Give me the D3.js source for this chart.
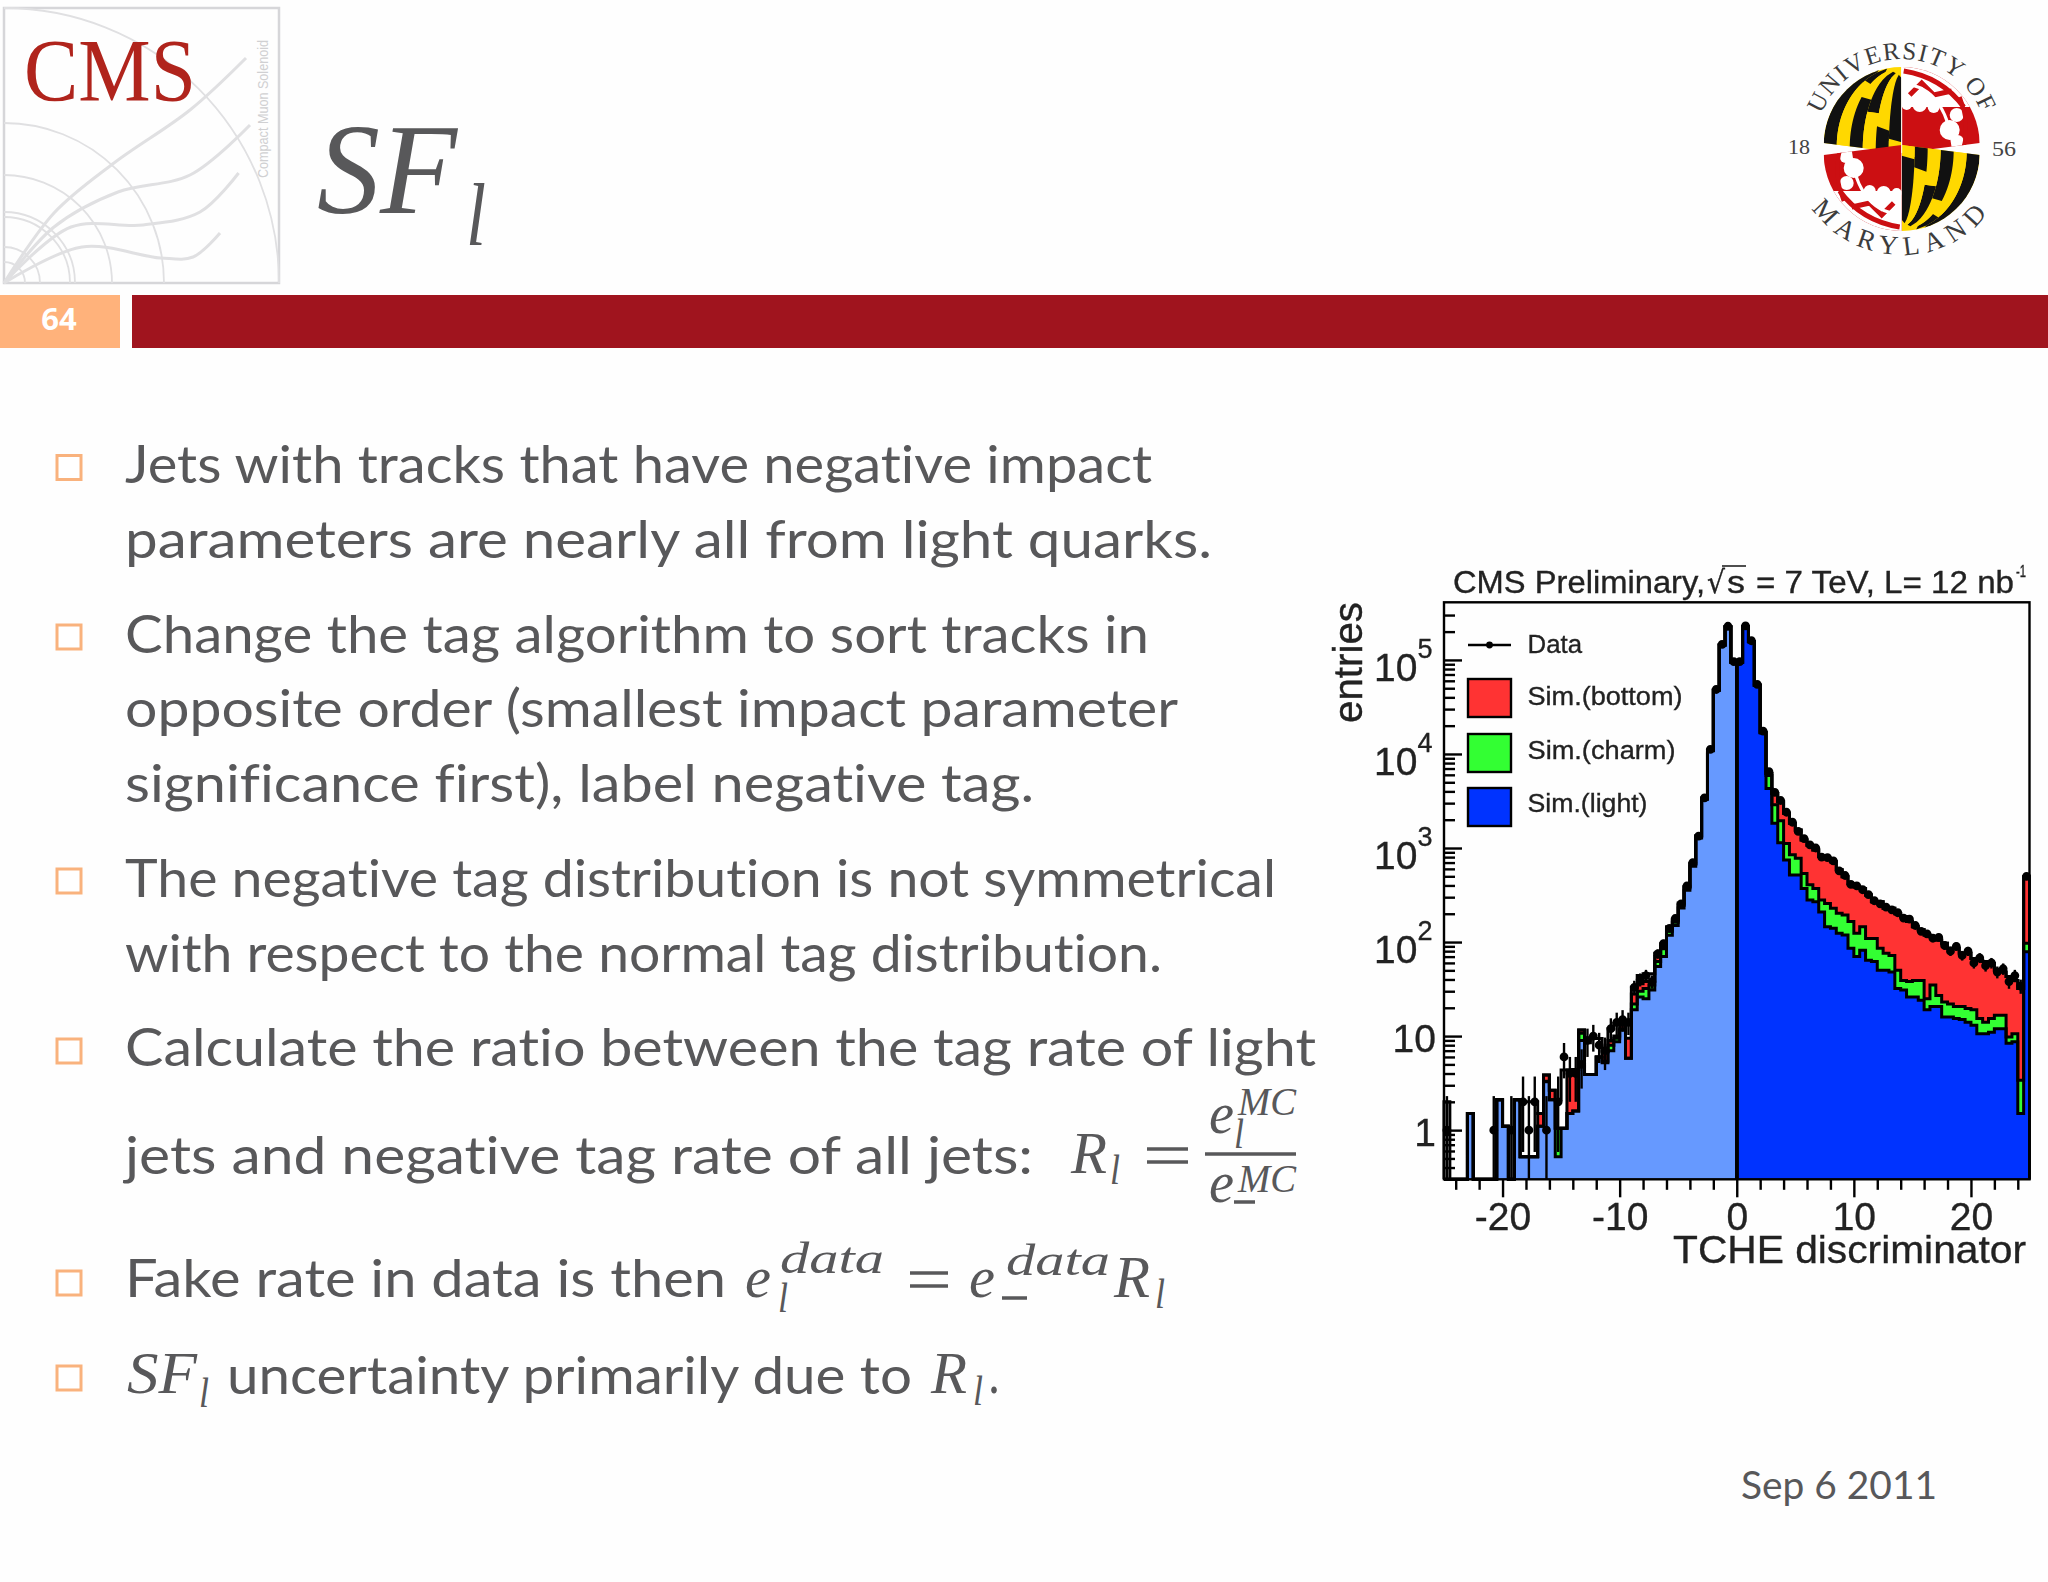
<!DOCTYPE html>
<html><head><meta charset="utf-8">
<style>html,body{margin:0;padding:0;background:#fefefe}svg{display:block}text{font-variant-ligatures:none}</style>
<script src="https://cdn.jsdelivr.net/npm/d3@7"></script>
</head><body><svg id="s" width="2048" height="1582"></svg>
<script>
// ---------- chart values: 100 bins of width 0.5 from -25 to 25 (cumulative stack tops) ----------
const lightTop=[0,0,0,0,1.5,0,0,0,0,2.1,1.1,0,2.1,.52,.52,.52,1.1,3.27,2.1,.52,1.05,1.5,1.6,9,3.9,3.9,6,5.2,7,8.7,11.6,5.8,19,26,25,31,55,70,118,150,230,355,640,1280,3300,10800,47500,143500,224000,94000,
94000,224500,156000,53500,16700,4300,1830,1140,745,515,515,372,280,269,209,145,140,124,119,86,70,82,64,62,50,50,48,32,31,26,26,24,19,20.6,20.6,16,16,15.4,15,14,13,10.6,10.6,11,12,12,8.4,8.7,1.5,79];
const charmTop=[0,0,0,0,1.5,0,0,0,0,2.1,1.1,0,2.1,.52,.52,.52,1.1,3.3,2.1,1.05,1.05,1.5,1.6,10.7,3.9,3.9,6,5.4,8,9.5,12,5.8,22,30,32,35,62,85,130,162,245,375,670,1320,3350,10900,47700,144000,225000,94500,
94500,225000,156500,53800,16900,5900,2880,1950,1120,850,776,537,407,372,280,257,229,202,194,165,124,145,109,109,86,76,72,50,39,38,39,39,25,35,27,23,22,20.6,20.6,19.7,19,15.4,14,15.4,16.7,16.7,9.8,10.6,3.4,97];
const bottomTop=[0,0,0,0,1.5,0,0,0,0,2.1,1.1,0,2.1,.52,.52,.52,1.5,3.85,2.66,1.05,1.05,4.35,4.4,11.6,3.9,3.9,6,6.8,9,10,13,9.5,28,36,38,38,70,90,138,170,253,385,680,1340,3380,10950,47800,144500,225500,94800,
95000,226000,157000,54000,17000,6200,3800,3100,2340,1830,1550,1216,1072,955,813,776,716,589,496,417,387,372,316,269,269,229,229,200,186,165,145,135,119,114,105,97,86,86,76,76,67,64,62,59,50,48,43,39,32,495];
const outerTop=[2,0,0,0,1.5,0,0,0,0,2.1,1.1,0,2.1,2,2,2,1.5,3.85,2.66,2.1,4.35,4.35,4.4,11.6,8.5,9.4,9.4,6.8,12,13.6,13.6,13.6,33,44,46,46,76,96,145,175,260,390,690,1350,3400,11000,48000,145000,226000,95000,
95000,226000,157000,54000,17000,6200,3800,3100,2340,1830,1550,1216,1072,955,813,776,716,589,496,417,387,372,316,269,269,229,229,200,186,165,145,135,119,114,105,97,86,86,76,76,67,64,62,59,50,48,43,39,32,495];
const dataCounts=[1,0,0,0,0,0,0,0,1,0,0,1,0,2,1,2,0,1,0,2,6,4,4,5,9,10,8,7,12,14,15,14,33,40,44,38,75,96,140,178,255,395,700,1340,3420,11200,48500,146000,228000,96000,
96000,230000,160000,55000,17500,6500,3900,3200,2400,1880,1500,1260,1080,1000,800,790,730,570,510,410,395,360,320,275,255,235,220,205,180,175,150,130,122,110,112,92,80,90,72,80,60,68,56,60,48,52,38,44,34,500];
const xMajorTicks=[-20,-10,0,10,20];
const xMinorTicks=[-24,-22,-18,-16,-14,-12,-8,-6,-4,-2,2,4,6,8,12,14,16,18,22,24];
const yMajorTicks=[1,10,100,1000,10000,100000];
const yMinorTicks=[.3,.4,.5,.6,.7,.8,.9,2,3,4,5,6,7,8,9,20,30,40,50,60,70,80,90,200,300,400,500,600,700,800,900,2000,3000,4000,5000,6000,7000,8000,9000,20000,30000,40000,50000,60000,70000,80000,90000,200000,300000];
const yTickBase=["1","10","10","10","10","10"];
const yTickSup=["","","2","3","4","5"];
const legendLabels=["Sim.(bottom)","Sim.(charm)","Sim.(light)"];
const legendWidths=[155,148,120];
const legendColors=["#ff3333","#33ff33","#0033ff"];

// ---------- slide text ----------
const bodyLines=["Jets with tracks that have negative impact","parameters are nearly all from light quarks.","Change the tag algorithm to sort tracks in","opposite order (smallest impact parameter","significance first), label negative tag.","The negative tag distribution is not symmetrical","with respect to the normal tag distribution.","Calculate the ratio between the tag rate of light","jets and negative tag rate of all jets:","Fake rate in data is then","uncertainty primarily due to"];
const bodyX=[125,125,125,125,125,125,125,125,125,125,227];
const bodyRight=[1152,1212,1149,1178,1034,1276,1162,1316,1033,726,912];
const bodyBase=[483,558,653,727,802,897,972,1066,1174,1297,1394];
const bulletCenters=[467.5,637,881,1051,1283,1378];

const svg=d3.select("#s");
const ink="#58585a";
svg.append("rect").attr("width",2048).attr("height",1582).attr("fill","#fefefe");

function txt(parent,t,x,y,size,opt={}){
  const e=parent.append("text").attr("x",x).attr("y",y).attr("font-size",size)
    .attr("font-family",opt.font||"Lato, sans-serif").attr("fill",opt.fill||ink).text(t);
  if(opt.italic)e.attr("font-style","italic");
  if(opt.weight)e.attr("font-weight",opt.weight);
  if(opt.anchor)e.attr("text-anchor",opt.anchor);
  if(opt.len)e.attr("textLength",opt.len).attr("lengthAdjust","spacingAndGlyphs");
  return e;
}
const serif="'Liberation Serif', serif";
const sans="'Liberation Sans', sans-serif";

// ---------- header ----------
svg.append("rect").attr("x",0).attr("y",295).attr("width",120).attr("height",53).attr("fill","#ffb27b");
svg.append("rect").attr("x",132).attr("y",295).attr("width",1916).attr("height",53).attr("fill","#a0141e");
txt(svg,"64",59,330,31,{fill:"#fff",weight:700,anchor:"middle",font:"'Open Sans', sans-serif"});
txt(svg,"SF",317,213,130,{font:serif,italic:true,len:140});
txt(svg,"l",466,245,88,{font:serif,italic:true,len:20});

// CMS logo
const lg=svg.append("g").attr("fill","none").attr("stroke","#e0e0e2");
lg.append("rect").attr("x",4).attr("y",8).attr("width",275).attr("height",275).attr("stroke","#d6d6d9").attr("stroke-width",2.5);
[275,160,108,71,66,36,21].forEach(r=>lg.append("path").attr("stroke-width",1.8)
  .attr("d",d3.arc()({innerRadius:r,outerRadius:r,startAngle:0,endAngle:Math.PI/2})).attr("transform","translate(4,283)"));
const trk=d3.line().curve(d3.curveCatmullRom);
[[[4,283],[54,213],[114,163],[190,110],[246,58]],
 [[4,283],[54,227],[118,192],[190,175],[250,125]],
 [[4,283],[71,227],[143,225],[200,212],[238.6,173]],
 [[4,283],[82,247],[161,258],[193,257],[220,233]]].forEach(p=>lg.append("path").attr("stroke-width",3).attr("d",trk(p)));
txt(svg,"CMS",24,100,88,{font:serif,fill:"#b0241c",len:172});
txt(svg,"Compact Muon Solenoid",0,0,14,{font:sans,fill:"#d0d0d2",len:138}).attr("transform","translate(268,178) rotate(-90)");

// Maryland logo
const um=svg.append("g").attr("transform","translate(1901.7,145)");
const defs=svg.append("defs");
defs.append("clipPath").attr("id","ul").append("path").attr("d","M0,-78 A78,78 0 0 0 -78,-2 L0,8 Z");
defs.append("clipPath").attr("id","ur").append("path").attr("d","M0,-78 A78,78 0 0 1 78,-2 L0,8 Z");
function calvert(g){
  g.append("rect").attr("x",-80).attr("y",-80).attr("width",80).attr("height",90).attr("fill","#ffd800");
  for(let k=0;k<6;k++){
    const x0=-78+13*k,x1=x0+13,yd=-12+(k-5)*13;
    const mer=(xx,y)=>xx*Math.sqrt(Math.max(0,1-(y/80)*(y/80)));
    const seg=(a,b,c)=>{const pts=[];for(const y of d3.range(a,b+1,4))pts.push([mer(x0,y),y+(x0+78)*.12]);
      for(const y of d3.range(b,a-1,-4))pts.push([mer(x1,y),y+(x1+78)*.12]);
      g.append("polygon").attr("points",pts.map(p=>p.join(",")).join(" ")).attr("fill",c);};
    const top=k%2==1?"#111":"#ffd800",bot=k%2==1?"#ffd800":"#111";
    seg(-78,yd,top);seg(yd,10,bot);
  }
}
function crossland(g){
  g.append("rect").attr("x",0).attr("y",-80).attr("width",80).attr("height",90).attr("fill","#cc0f12");
  g.append("rect").attr("x",0).attr("y",-80).attr("width",80).attr("height",42).attr("fill","#fff");
  const w=g.append("g").attr("fill","#fff");
  [[48,-15,10],[55,-30,7],[56,-4,6],[18,-40,7],[32,-38,6],[5,-40,5]].forEach(c=>w.append("circle").attr("cx",c[0]).attr("cy",c[1]).attr("r",c[2]));
  const r=g.append("g").attr("fill","none").attr("stroke","#cc0f12").attr("stroke-width",5);
  r.append("path").attr("d","M2,-74 Q40,-68 62,-38");
  r.append("path").attr("d","M8,-50 L20,-62 L32,-50 L50,-54");
  r.append("path").attr("d","M58,-48 Q68,-22 62,2").attr("stroke-width",4);
  g.append("path").attr("d","M10,-60 Q45,-52 52,6").attr("fill","none").attr("stroke","#fff").attr("stroke-width",3);
}
const ulg=um.append("g").attr("clip-path","url(#ul)");calvert(ulg);
const urg=um.append("g").attr("clip-path","url(#ur)");crossland(urg);
const lrg=um.append("g").attr("transform","rotate(180 0 4)").append("g").attr("clip-path","url(#ul)");calvert(lrg);
const llg=um.append("g").attr("transform","rotate(180 0 4)").append("g").attr("clip-path","url(#ur)");crossland(llg);
um.append("line").attr("x1",0).attr("x2",0).attr("y1",-78).attr("y2",8).attr("stroke","#fff").attr("stroke-width",1);
defs.append("path").attr("id","arcTop").attr("d","M-86,0 A86,86 0 0 1 86,0");
defs.append("path").attr("id","arcBot").attr("d","M-110,0 A110,110 0 0 0 110,0");
um.append("text").attr("font-family",serif).attr("font-size",25).attr("fill","#3c3c3c").attr("text-anchor","middle").attr("letter-spacing",1.5)
  .append("textPath").attr("href","#arcTop").attr("startOffset","50%").text("UNIVERSITY OF");
um.append("text").attr("font-family",serif).attr("font-size",27).attr("fill","#3c3c3c").attr("text-anchor","middle").attr("letter-spacing",7)
  .append("textPath").attr("href","#arcBot").attr("startOffset","50%").text("MARYLAND");
txt(svg,"18",1788,154,21,{font:serif,fill:"#444",len:22});
txt(svg,"56",1992,156,21,{font:serif,fill:"#444",len:24});

// ---------- body text ----------
bodyLines.forEach((t,i)=>txt(svg,t,bodyX[i],bodyBase[i],52,{len:bodyRight[i]-bodyX[i]}));
bulletCenters.forEach(c=>svg.append("rect").attr("x",57).attr("y",c-12).attr("width",24).attr("height",24).attr("fill","#fff").attr("stroke","#f9b27d").attr("stroke-width",3));
txt(svg,"Sep 6 2011",1741,1499,38,{len:196});

// ---------- math ----------
const m=(t,x,y,s,len,it=true)=>txt(svg,t,x,y,s,{font:serif,italic:it,len});
const hl=(x1,x2,y,w)=>svg.append("line").attr("x1",x1).attr("x2",x2).attr("y1",y).attr("y2",y).attr("stroke",ink).attr("stroke-width",w);
m("R",1071,1173,60,36);m("l",1110,1184,42,10);
hl(1147,1188,1149,3.5);hl(1147,1188,1162,3.5);hl(1205,1296,1154,3.5);
m("e",1209,1133,60,25);m("MC",1238,1115,40,58);m("l",1234,1148,42,10);
m("e",1209,1202,60,25);m("MC",1238,1192,40,58);hl(1234,1255,1202,3.5);
m("e",745,1297,60,26);m("data",780,1273,44,104);m("l",778,1312,42,10);
hl(910,948,1273,3.5);hl(910,948,1286,3.5);
m("e",969,1297,60,26);m("data",1006,1275,44,104);hl(1002,1027,1298,3.5);
m("R",1114,1297,60,36);m("l",1155,1308,42,10);
m("SF",127,1393,60,70);m("l",199,1407,42,10);
m("R",931,1393,60,36);m("l",973,1405,42,10);m(".",988,1393,60,12,false);

// ---------- the chart ----------
const chart=svg.append("g").style("filter","blur(0.55px)");
const xL=1444,xR=2029.5,yT=602.3,yB=1179.3,yMin=.3,yMax=4.1e5,lw=2.4,histW=3;
const x=d3.scaleLinear().domain([-25,25]).range([xL,xR]);
const y=d3.scaleLog().domain([yMin,yMax]).range([yB,yT]).clamp(true);
const binW=.5,left=i=>-25+i*binW;
const safe=v=>Math.max(v,yMin);

// one step area per layer and side, top layer of the stack painted first
const stepArea=d3.area().curve(d3.curveStepAfter).x(d=>x(d[0])).y0(yB).y1(d=>y(safe(d[1])));
const binPoints=(vals,a,b)=>{const p=[];for(let i=a;i<b;i++)p.push([left(i),vals[i]]);p.push([left(b),vals[b-1]]);return p;};
function fillLayer(vals,colNeg,colPos){
  chart.append("path").attr("d",stepArea(binPoints(vals,0,50))).attr("fill",colNeg);
  chart.append("path").attr("d",stepArea(binPoints(vals,50,100))).attr("fill",colPos);
}
fillLayer(outerTop,"#ffffff","#ffffff");
fillLayer(bottomTop,"#ff3333","#ff3333");
fillLayer(charmTop,"#33ff33","#33ff33");
fillLayer(lightTop,"#6699ff","#0033ff");

// outlines
const stepLine=d3.line().curve(d3.curveStepAfter).x(d=>x(d[0])).y(d=>y(safe(d[1])));
function outline(vals,a,b){
  const path="M"+x(left(a))+","+yB+"L"+stepLine(binPoints(vals,a,b)).slice(1)+"L"+x(left(b))+","+yB;
  chart.append("path").attr("d",path).attr("fill","none").attr("stroke","#000").attr("stroke-width",histW);
}
[outerTop,bottomTop,charmTop,lightTop].forEach(v=>{outline(v,0,50);outline(v,50,100);});

// data points
const pts=dataCounts.map((v,i)=>({v,c:left(i)+binW/2})).filter(d=>d.v>0);
const dg=chart.append("g").attr("stroke","#000").attr("stroke-width",2.4);
dg.selectAll("line.h").data(pts).join("line").attr("class","h")
  .attr("x1",d=>x(d.c-binW/2)).attr("x2",d=>x(d.c+binW/2)).attr("y1",d=>y(d.v)).attr("y2",d=>y(d.v)).attr("stroke-width",4.6);
dg.selectAll("line.v").data(pts).join("line").attr("class","v")
  .attr("x1",d=>x(d.c)).attr("x2",d=>x(d.c)).attr("y1",d=>y(d.v+Math.sqrt(d.v)+(d.v<3?.3:0))).attr("y2",d=>y(safe(d.v-Math.sqrt(d.v))));
dg.selectAll("circle").data(pts).join("circle").attr("cx",d=>x(d.c)).attr("cy",d=>y(d.v)).attr("r",3.2).attr("fill","#000");

// frame
chart.append("rect").attr("x",xL).attr("y",yT).attr("width",xR-xL).attr("height",yB-yT).attr("fill","none").attr("stroke","#000").attr("stroke-width",lw);

// axes
function axisStyle(g){g.select(".domain").remove();g.selectAll("line").attr("stroke","#000").attr("stroke-width",lw);}
chart.append("g").attr("transform",`translate(0,${yB})`)
  .call(d3.axisBottom(x).tickValues(xMajorTicks).tickSize(18).tickPadding(5).tickFormat(String)).call(axisStyle)
  .selectAll("text").attr("font-family",sans).attr("font-size",39).attr("fill","#222");
chart.append("g").attr("transform",`translate(0,${yB})`)
  .call(d3.axisBottom(x).tickValues(xMinorTicks).tickSize(10.5).tickFormat("")).call(axisStyle);
chart.append("g").attr("transform",`translate(${xL},0)`)
  .call(d3.axisRight(y).tickValues(yMajorTicks).tickSize(18).tickFormat("")).call(axisStyle);
chart.append("g").attr("transform",`translate(${xL},0)`)
  .call(d3.axisRight(y).tickValues(yMinorTicks).tickSize(11).tickFormat("")).call(axisStyle);

// y tick labels
yMajorTicks.forEach((t,i)=>{
  const hasSup=yTickSup[i]!=="";
  txt(chart,yTickBase[i],hasSup?1417.5:1436,y(t)+(hasSup?21:15.5),39,{font:sans,fill:"#222",anchor:"end"});
  if(hasSup)txt(chart,yTickSup[i],1417.5,y(t)-2,27,{font:sans,fill:"#222"});
});

// axis titles
txt(chart,"TCHE discriminator",1673,1263,39,{font:sans,fill:"#222",len:353});
txt(chart,"entries",0,0,40,{font:sans,fill:"#222",anchor:"end",len:121}).attr("transform","translate(1362,602) rotate(-90)");

// title
txt(chart,"CMS Preliminary,",1453,592.7,31,{font:sans,fill:"#222",len:252});
txt(chart,"\u221A",1707,592.7,31,{font:"'DejaVu Sans', sans-serif",fill:"#222",len:18});
txt(chart,"s",1727,592.7,31,{font:sans,fill:"#222",len:18});
chart.append("line").attr("x1",1722).attr("x2",1746).attr("y1",566).attr("y2",566).attr("stroke","#222").attr("stroke-width",1.6);
txt(chart,"= 7 TeV, L= 12 nb",1756,592.7,31,{font:sans,fill:"#222",len:258});
txt(chart,"-1",2016,577,16,{font:sans,fill:"#222",len:10});

// legend
chart.append("line").attr("x1",1468).attr("x2",1511).attr("y1",645).attr("y2",645).attr("stroke","#000").attr("stroke-width",lw);
chart.append("circle").attr("cx",1489.5).attr("cy",645).attr("r",3.4).attr("fill","#000");
txt(chart,"Data",1527.5,652.7,26,{font:sans,fill:"#222",len:54.5});
const boxY=[679,734,788],labY=[705,759,811.7];
legendLabels.forEach((t,i)=>{
  chart.append("rect").attr("x",1468).attr("y",boxY[i]).attr("width",43).attr("height",38).attr("fill",legendColors[i]).attr("stroke","#000").attr("stroke-width",lw);
  txt(chart,t,1527.5,labY[i],26,{font:sans,fill:"#222",len:legendWidths[i]});
});
chart.selectAll("text").attr("stroke","#222").attr("stroke-width",.35);
</script></body></html>
